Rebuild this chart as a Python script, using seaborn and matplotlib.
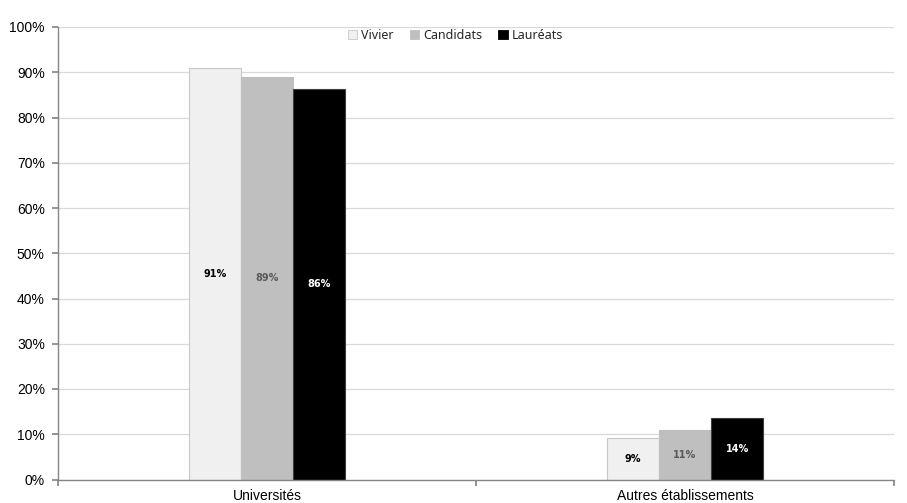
import matplotlib
matplotlib.use("Agg")
import matplotlib.pyplot as plt
import seaborn as sns
import pandas as pd
from matplotlib.ticker import FuncFormatter
from matplotlib.patches import Patch

categories = ["Universités", "Autres établissements"]
series = ["Vivier", "Candidats", "Lauréats"]
vivier = [90.9, 9.1]
candidats = [89.0, 11.0]
laureats = [86.4, 13.6]
labels_vivier = ["91%", "9%"]
labels_candidats = ["89%", "11%"]
labels_laureats = ["86%", "14%"]

colors = {"Vivier": "#F0F0F0", "Candidats": "#BFBFBF", "Lauréats": "#000000"}
edges = {"Vivier": "#C8C8C8", "Candidats": "#BFBFBF", "Lauréats": "#404040"}
label_colors = {"Vivier": "#000000", "Candidats": "#595959", "Lauréats": "#FFFFFF"}

rows = []
for name, vals in zip(series, [vivier, candidats, laureats]):
    for c, v in zip(categories, vals):
        rows.append({"cat": c, "serie": name, "val": v})
df = pd.DataFrame(rows)

sns.set_theme(style="white")
plt.rcParams["font.family"] = ["Liberation Sans", "DejaVu Sans"]

fig = plt.figure(figsize=(9.07, 5.03), dpi=100)
ax = fig.add_axes([58 / 907, 1 - 479.5 / 503, (894 - 58) / 907, (479.5 - 27) / 503])

sns.barplot(data=df, x="cat", y="val", hue="serie", order=categories,
            hue_order=series, palette=colors, width=0.375, gap=0,
            saturation=1, ax=ax, legend=False, errorbar=None)

label_map = {"Vivier": labels_vivier, "Candidats": labels_candidats, "Lauréats": labels_laureats}
for container, name in zip(ax.containers, series):
    for bar in container:
        bar.set_edgecolor(edges[name])
        bar.set_linewidth(0.8)
    ax.bar_label(container, labels=label_map[name], label_type="center",
                 color=label_colors[name], fontsize=7, fontweight="bold",
                 family="DejaVu Sans")

ax.set_ylim(0, 100)
ax.set_xlim(-0.5, 1.5)
ax.set_yticks(range(0, 101, 10))
ax.yaxis.set_major_formatter(FuncFormatter(lambda v, p: f"{int(v)}%"))
ax.grid(axis="y", color="#D9D9D9", linewidth=0.9)
ax.set_axisbelow(True)
ax.set_xlabel("")
ax.set_ylabel("")

for s in ["top", "right"]:
    ax.spines[s].set_visible(False)
for s in ["left", "bottom"]:
    ax.spines[s].set_color("#868686")
    ax.spines[s].set_linewidth(1.0)

ax.tick_params(axis="y", which="major", left=True, length=4, color="#868686",
               labelsize=10, pad=5.5, labelcolor="#000000")
ax.set_xticks([-0.5, 0.5, 1.5], minor=False)
ax.set_xticklabels([])
ax.set_xticks([0, 1], minor=True)
ax.set_xticklabels(categories, minor=True)
ax.tick_params(axis="x", which="major", bottom=True, length=4, color="#868686")
ax.tick_params(axis="x", which="minor", bottom=False, labelsize=10, pad=2.5,
               labelcolor="#000000")

handles = [Patch(facecolor=colors[s], edgecolor=edges[s] if s == "Vivier" else colors[s],
                 linewidth=0.6) for s in series]
leg = ax.legend(handles, series, loc="upper center", bbox_to_anchor=(0.4755, 1.012),
                ncol=3, frameon=False, handlelength=0.75,
                handleheight=0.75, handletextpad=0.3, columnspacing=1.3,
                borderaxespad=0.2, prop={"family": "Noto Sans", "size": 9})

fig.savefig("out.png", dpi=100)
